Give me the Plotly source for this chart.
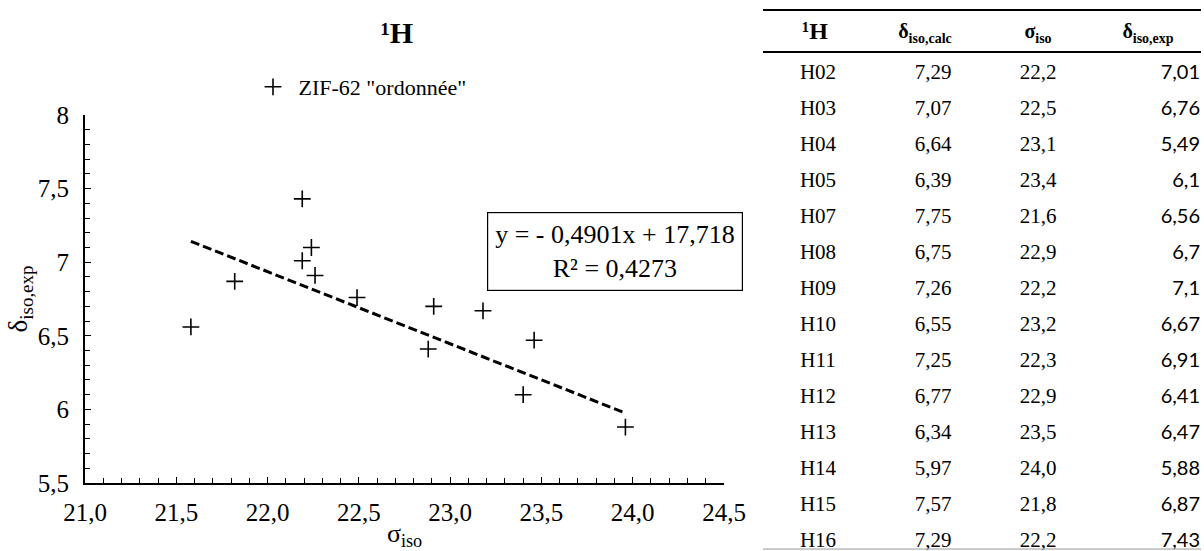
import plotly.graph_objects as go

# proton sites and values (table + scatter)
labels = ["H02", "H03", "H04", "H05", "H07", "H08", "H09",
          "H10", "H11", "H12", "H13", "H14", "H15", "H16"]
delta_calc = [7.29, 7.07, 6.64, 6.39, 7.75, 6.75, 7.26,
              6.55, 7.25, 6.77, 6.34, 5.97, 7.57, 7.29]
sigma_iso = [22.19, 22.49, 23.08, 23.40, 21.58, 22.91, 22.24,
             23.18, 22.26, 22.88, 23.46, 23.96, 21.82, 22.19]
delta_exp = [7.01, 6.76, 5.49, 6.1, 6.56, 6.7, 7.1,
             6.67, 6.91, 6.41, 6.47, 5.88, 6.87, 7.43]

slope, intercept, r2 = -0.4901, 17.718, 0.4273
x_range = [21.0, 24.5]
y_range = [5.5, 8.0]

W, H = 1204, 551
SERIF = "Liberation Serif"


def px_x(v):
    return v / W


def px_y(v):
    return 1 - v / H


def comma(v, fmt):
    return format(v, fmt).replace(".", ",")


fig = go.Figure()

# points inside the axis range only (as in the spreadsheet chart)
vis = [(s, d) for s, d in zip(sigma_iso, delta_exp) if y_range[0] <= d <= y_range[1]]
xs, ys = zip(*vis)
fig.add_trace(go.Scatter(
    x=xs, y=ys, mode="markers", name='\u00a0ZIF-62 "ordonnée"',
    marker=dict(symbol="cross-thin", size=12, line=dict(width=1.6, color="black"), color="black"),
))

# linear trendline
tx = [min(xs), max(xs)]
fig.add_trace(go.Scatter(
    x=tx, y=[slope * t + intercept for t in tx], mode="lines", showlegend=False,
    line=dict(color="black", width=3, dash="9px,4px"), hoverinfo="skip",
))

# table drawn as text on its own hidden axes
col_x = [56, 171, 276, 438]
cols = [
    labels,
    [comma(v, ".2f") for v in delta_calc],
    [comma(v, ".1f") for v in sigma_iso],
    [comma(v, "g") for v in delta_exp],
]
col_font = [
    dict(family=SERIF, size=21, color="black"),
    dict(family=SERIF, size=21, color="black"),
    dict(family=SERIF, size=21, color="black"),
    dict(family="Lato", size=20, color="black"),
]
rows = list(range(len(labels)))
for i, vals in enumerate(cols):
    fig.add_trace(go.Scatter(
        x=[col_x[i]] * len(vals), y=rows, text=vals, mode="text",
        textposition="middle left" if i == 3 else "middle center",
        textfont=col_font[i], xaxis="x2", yaxis="y2",
        showlegend=False, hoverinfo="skip", cliponaxis=False,
    ))

headers = ["<b>¹H</b>", "<b>δ<sub>iso,calc</sub></b>", "<b>σ<sub>iso</sub></b>", "<b>δ<sub>iso,exp</sub></b>"]
head_x = [53, 163, 276, 386]
head_size = [24, 20, 20, 20]
fig.add_trace(go.Scatter(
    x=head_x, y=[-1.13] * 4, text=headers, mode="text", textposition="middle center",
    textfont=dict(family=SERIF, size=head_size, color="black"),
    xaxis="x2", yaxis="y2", showlegend=False, hoverinfo="skip", cliponaxis=False,
))

row_h = 36.0
axis_font = dict(family=SERIF, size=25, color="black")
fig.update_layout(
    width=W, height=H,
    margin=dict(l=0, r=0, t=0, b=0),
    paper_bgcolor="white", plot_bgcolor="white",
    separators=",.",
    font=dict(family=SERIF, color="black"),
    title=dict(text="<b>¹H</b>", x=px_x(397), y=px_y(32), xanchor="center", yanchor="middle",
               font=dict(family=SERIF, size=30, color="black")),
    showlegend=True,
    legend=dict(x=px_x(253), y=px_y(66), xanchor="left", yanchor="top",
                font=dict(family=SERIF, size=22, color="black"), bgcolor="rgba(0,0,0,0)"),
    xaxis=dict(
        domain=[px_x(85), px_x(724)], range=x_range, dtick=0.5, tick0=21, tickformat=".1f",
        ticks="inside", ticklen=6, tickwidth=1.3, tickcolor="black",
        minor=dict(dtick=0.1, ticks="inside", ticklen=5, tickwidth=1.3, tickcolor="black"),
        showline=True, linecolor="black", linewidth=1.8, showgrid=False, zeroline=False,
        tickfont=axis_font, ticklabelstandoff=6, automargin=False,
        title=dict(text="σ<sub>iso</sub>", font=dict(family=SERIF, size=26, color="black"), standoff=4),
        anchor="y",
    ),
    yaxis=dict(
        domain=[px_y(483), px_y(115)], range=y_range, dtick=0.5,
        ticks="inside", ticklen=6, tickwidth=1.3, tickcolor="black",
        minor=dict(dtick=0.1, ticks="inside", ticklen=5, tickwidth=1.3, tickcolor="black"),
        showline=True, linecolor="black", linewidth=1.8, showgrid=False, zeroline=False,
        tickfont=axis_font, ticklabelstandoff=9, automargin=False,
        title=dict(text="δ<sub>iso,exp</sub>", font=dict(family=SERIF, size=27, color="black"), standoff=2),
        anchor="x",
    ),
    xaxis2=dict(domain=[px_x(762), 1], range=[0, 442], visible=False, anchor="y2",
                fixedrange=True, automargin=False),
    yaxis2=dict(domain=[0, 1], range=[(H - 74) / row_h, -74 / row_h], visible=False,
                anchor="x2", fixedrange=True, automargin=False),
    annotations=[dict(
        text="y = - 0,4901x + 17,718<br>R² = 0,4273",
        xref="paper", yref="paper", x=px_x(615), y=px_y(252), xanchor="center", yanchor="middle",
        showarrow=False, align="center", bordercolor="black", borderwidth=1.2, borderpad=7,
        bgcolor="white", font=dict(family=SERIF, size=26, color="black"),
    )],
    shapes=[
        dict(type="line", xref="paper", yref="paper", x0=px_x(763), x1=px_x(1201),
             y0=px_y(10), y1=px_y(10), line=dict(color="black", width=2.2)),
        dict(type="line", xref="paper", yref="paper", x0=px_x(763), x1=px_x(1201),
             y0=px_y(52), y1=px_y(52), line=dict(color="black", width=2.2)),
        dict(type="line", xref="paper", yref="paper", x0=px_x(763), x1=px_x(1201),
             y0=px_y(549), y1=px_y(549), line=dict(color="#999999", width=1)),
    ],
)

fig.write_html("out.html", config={"displayModeBar": False},
               post_script="document.body.style.margin = '0';")
